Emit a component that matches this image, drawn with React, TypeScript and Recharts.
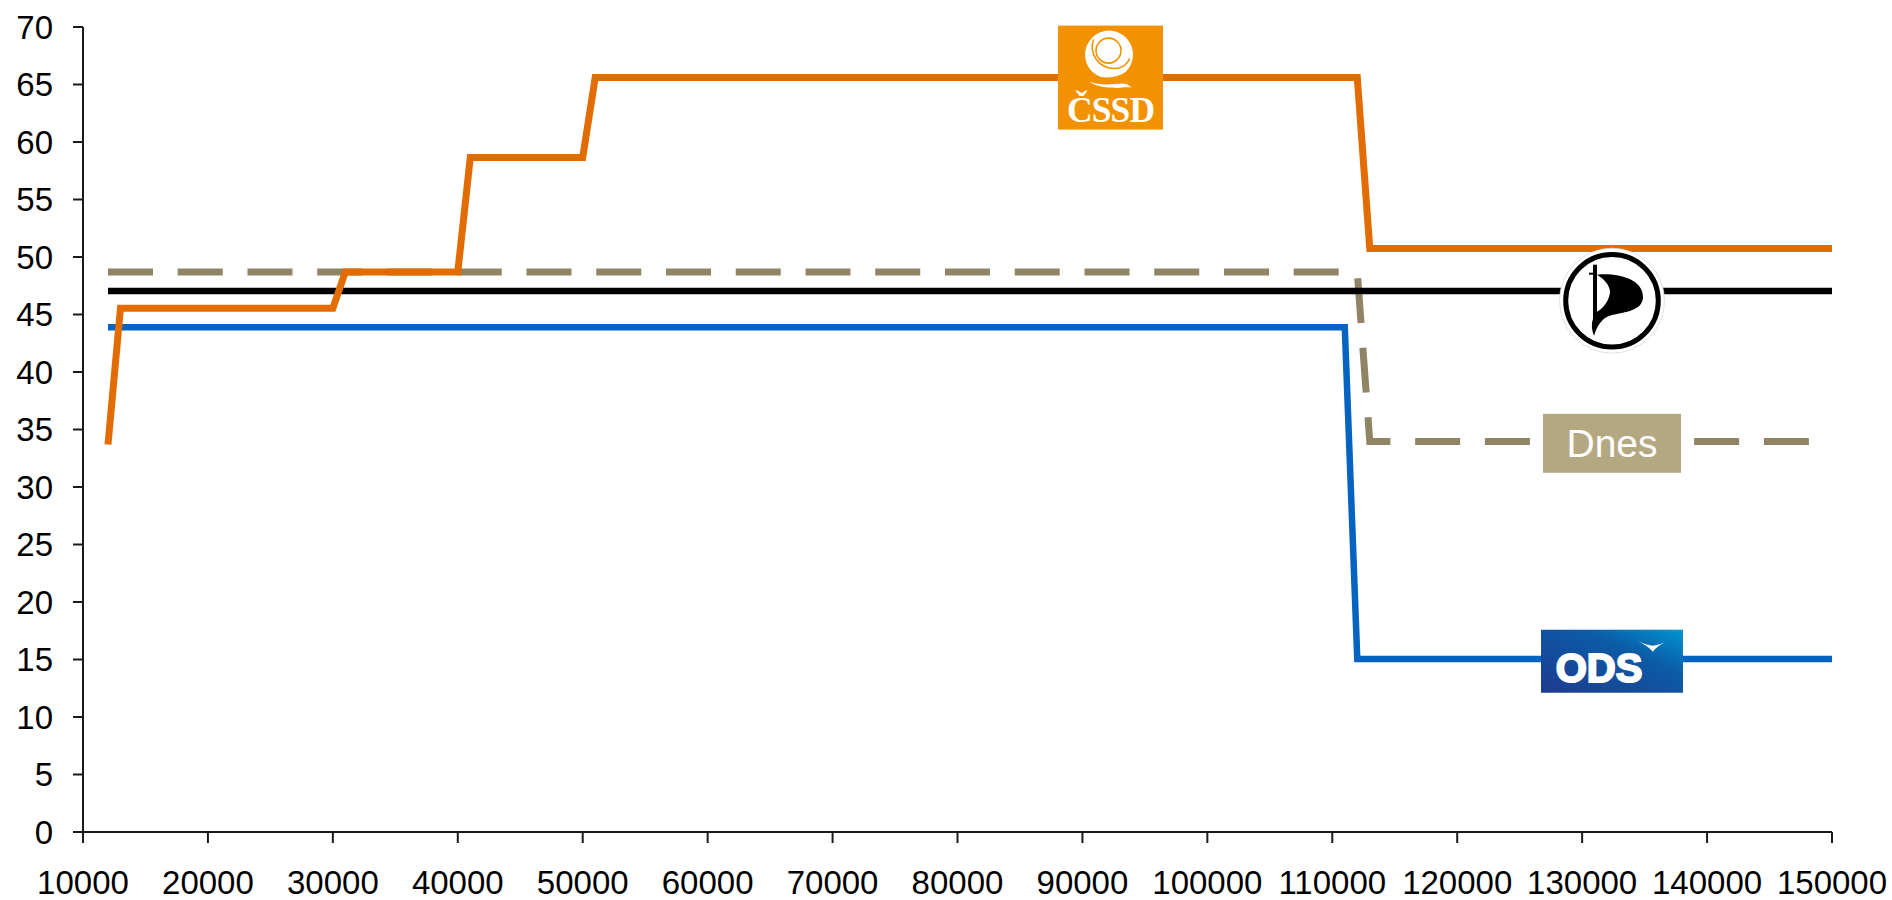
import { LineChart, Line, XAxis, YAxis, ReferenceDot } from 'recharts'

const xTicks = [10000, 20000, 30000, 40000, 50000, 60000, 70000, 80000, 90000, 100000, 110000, 120000, 130000, 140000, 150000]
const yTicks = [0, 5, 10, 15, 20, 25, 30, 35, 40, 45, 50, 55, 60, 65, 70]

const cssdX = [12000, 13000, 30000, 31000, 40000, 41000, 50000, 51000, 112000, 113000, 150000]
const cssdY = [33.7, 45.55, 45.55, 48.7, 48.7, 58.65, 58.65, 65.6, 65.6, 50.75, 50.75]
const odsX = [12000, 111000, 112000, 150000]
const odsY = [43.9, 43.9, 15.05, 15.05]
const piratesX = [12000, 150000]
const piratesY = [47.05, 47.05]
const dnesX = [12000, 112000, 113000, 150000]
const dnesY = [48.7, 48.7, 33.95, 33.95]

const toRows = (xs: number[], ys: number[]) => xs.map((x, i) => ({ x, y: ys[i] }))

const FONT = '"Liberation Sans", Arial, sans-serif'

function CssdLogo({ cx, cy }: any) {
  const orange = '#F39200'
  return (
    <g transform={`translate(${cx},${cy})`}>
      <rect x={-52.5} y={-52} width={105} height={104} fill={orange} />
      <circle cx={-1.5} cy={-23} r={24} fill="#fff" />
      <circle cx={-2} cy={-27} r={12.5} fill="none" stroke={orange} strokeWidth={1.6} />
      <circle cx={-2} cy={-27.5} r={8.5} fill="#fff" />
      <path d="M-17 -38 C-22 -24 -12 -10 3 -9 C11 -9 17 -13 19 -19" fill="none" stroke={orange} strokeWidth={1.5} />
      <path d="M-24 -6 C-14 2 4 4 19 -7" fill="none" stroke={orange} strokeWidth={1.4} />
      <path d="M-21 4 C-10 9 6 6 12 6 C16 6 19 8 21 10 C14 9 9 11 2 10 C-8 10 -16 8 -21 4 Z" fill="#fff" />
      <text x={0} y={44.5} textAnchor="middle" fontFamily='"Liberation Serif", serif' fontWeight="bold" fontSize={35.5} letterSpacing={-0.9} fill="#fff">
        ČSSD
      </text>
    </g>
  )
}

function PiratesLogo({ cx, cy }: any) {
  return (
    <g transform={`translate(${cx},${cy})`}>
      <circle r={52.5} fill="#fff" stroke="#d9d9d9" strokeWidth={0.8} />
      <circle r={46.3} fill="none" stroke="#000" strokeWidth={5} />
      <path
        d="M-15 -26 C5 -28 31 -22 31 -4 C31 8 18 11 1 14 C-8 16 -14 22 -18 35 C-20 30 -21 24 -19 18 L-15 11 C-6 6 -2 -4 -2 -9 C-2 -15 -8 -22 -15 -26 Z"
        fill="#000"
      />
      <rect x={-19} y={-36} width={4} height={56} fill="#000" />
      <rect x={-23} y={-28} width={8} height={2} fill="#000" />
    </g>
  )
}

function DnesLabel({ cx, cy }: any) {
  return (
    <g transform={`translate(${cx},${cy})`}>
      <rect x={-69} y={-29.5} width={138} height={59} fill="#B4A882" />
      <text x={0} y={13.5} textAnchor="middle" fontFamily={FONT} fontSize={39} fill="#fff">
        Dnes
      </text>
    </g>
  )
}

function OdsLogo({ cx, cy }: any) {
  return (
    <g transform={`translate(${cx},${cy})`}>
      <defs>
        <linearGradient id="odsFill" x1="0" y1="1" x2="1" y2="0">
          <stop offset="0" stopColor="#1F3A8F" />
          <stop offset="0.65" stopColor="#0B5CA6" />
          <stop offset="1" stopColor="#0095D3" />
        </linearGradient>
      </defs>
      <rect x={-71} y={-31.5} width={142} height={63} fill="url(#odsFill)" />
      <text x={-13} y={21} textAnchor="middle" fontFamily={FONT} fontWeight="bold" fontSize={40} fill="#fff" stroke="#fff" strokeWidth={2}>
        ODS
      </text>
      <path d="M25 -20.5 C33 -17 37 -16 41 -15.5 C46 -16 51 -18 56 -20.5 C50 -18 44 -14 41 -9.5 C37 -14 31 -18 25 -20.5 Z" fill="#fff" />
    </g>
  )
}

export default function App() {
  const tick = { fontSize: 33, fill: '#000', fontFamily: FONT }
  const axisStroke = { stroke: '#1a1a1a', strokeWidth: 2 }
  return (
    <div style={{ position: 'absolute', left: 0, top: 0 }}>
      <LineChart width={1892} height={900} margin={{ top: 27, right: 60, bottom: 0, left: 0 }}>
        <XAxis
          type="number"
          dataKey="x"
          domain={[10000, 150000]}
          ticks={xTicks}
          interval={0}
          height={68}
          tick={tick}
          tickSize={11}
          tickMargin={28}
          axisLine={axisStroke}
          tickLine={axisStroke}
          allowDuplicatedCategory={false}
        />
        <YAxis
          type="number"
          domain={[0, 70]}
          ticks={yTicks}
          interval={0}
          width={83}
          tick={tick}
          tickSize={10}
          tickMargin={20}
          axisLine={axisStroke}
          tickLine={axisStroke}
        />
        <Line data={toRows(dnesX, dnesY)} dataKey="y" stroke="#8F8463" strokeWidth={7} strokeDasharray="45 24.75" dot={false} activeDot={false} isAnimationActive={false} />
        <Line data={toRows(piratesX, piratesY)} dataKey="y" stroke="#000" strokeWidth={6.5} dot={false} activeDot={false} isAnimationActive={false} />
        <Line data={toRows(odsX, odsY)} dataKey="y" stroke="#0563C1" strokeWidth={6.5} dot={false} activeDot={false} isAnimationActive={false} />
        <Line data={toRows(cssdX, cssdY)} dataKey="y" stroke="#E36C00" strokeWidth={7} dot={false} activeDot={false} isAnimationActive={false} />
        <ReferenceDot x={92250} y={65.6} shape={CssdLogo} />
        <ReferenceDot x={132390} y={46.2} shape={PiratesLogo} />
        <ReferenceDot x={132390} y={33.8} shape={DnesLabel} />
        <ReferenceDot x={132390} y={14.85} shape={OdsLogo} />
      </LineChart>
    </div>
  )
}
